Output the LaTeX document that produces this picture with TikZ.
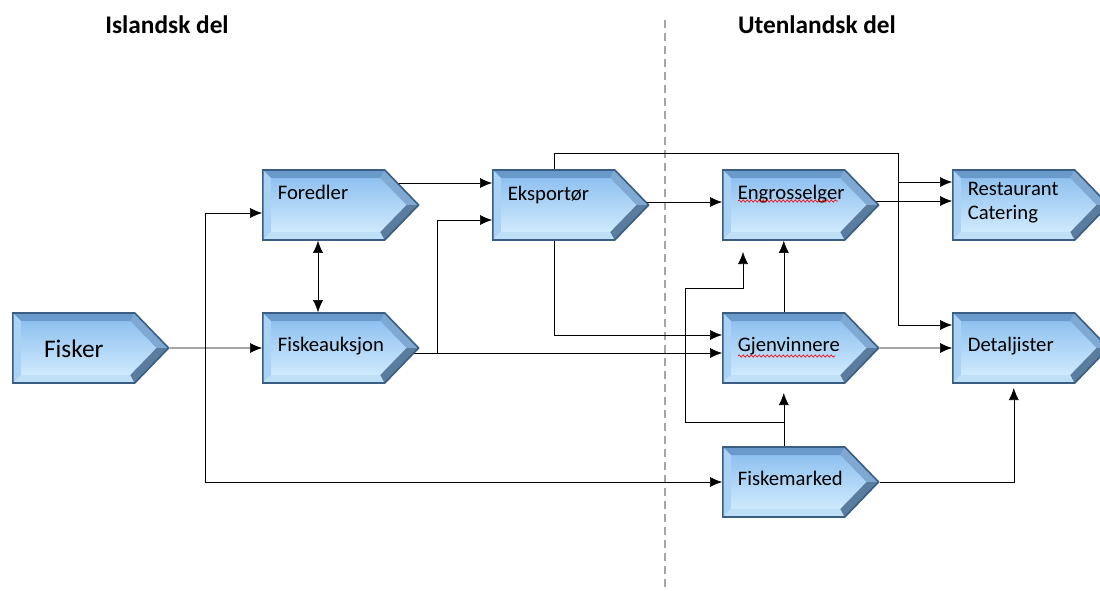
\documentclass[tikz,border=0pt]{standalone}
\usepackage{fontspec}
\setmainfont{Carlito}
\usepackage{tikz}
\usetikzlibrary{arrows.meta, backgrounds, calc, decorations.pathmorphing, shapes.symbols}
\definecolor{stageline}{HTML}{395D83}
\definecolor{stagetop}{HTML}{86BBEE}
\definecolor{stagebot}{HTML}{D8F0FF}
\definecolor{bevtop}{HTML}{6A9ACC}
\definecolor{bevleft}{HTML}{A9D2F4}
\definecolor{bevbot}{HTML}{BFDFF7}
\definecolor{bevup}{HTML}{7FA9D3}
\definecolor{bevlow}{HTML}{5A7C9E}
\tikzstyle{bevel}=[path picture={
  \coordinate (nw) at (path picture bounding box.north west);
  \coordinate (sw) at (path picture bounding box.south west);
  \coordinate (ne) at (path picture bounding box.north east);
  \coordinate (se) at (path picture bounding box.south east);
  \coordinate (ee) at (path picture bounding box.east);
  \coordinate (on) at ($(ne)+(-25.5pt,0)$);
  \coordinate (os) at ($(se)+(-25.5pt,0)$);
  \coordinate (inw) at ($(nw)+(6pt,-6pt)$);
  \coordinate (isw) at ($(sw)+(6pt,6pt)$);
  \coordinate (ine) at ($(ne)+(-28.7pt,-6pt)$);
  \coordinate (ise) at ($(se)+(-28.7pt,6pt)$);
  \coordinate (iee) at ($(ee)+(-9pt,0)$);
  \fill[bevtop] (nw) -- (on) -- (ine) -- (inw) -- cycle;
  \fill[bevleft] (nw) -- (inw) -- (isw) -- (sw) -- cycle;
  \fill[bevbot] (sw) -- (isw) -- (ise) -- (os) -- cycle;
  \fill[bevup] (on) -- (ee) -- (iee) -- (ine) -- cycle;
  \fill[bevlow] (ee) -- (os) -- (ise) -- (iee) -- cycle;
}]
\tikzstyle{stage}=[signal, signal to=east, signal pointer angle=92, anchor=west,
  draw=stageline, line width=1.2pt, top color=stagetop, bottom color=stagebot, bevel,
  inner xsep=11.25pt, inner ysep=0pt, text width=69pt, align=left,
  font=\fontsize{15.5}{18}\selectfont]
\tikzstyle{upper}=[text height=21.75pt, text depth=30.75pt]
\tikzstyle{middle}=[text height=28.5pt, text depth=24pt]
\tikzstyle{title}=[font=\bfseries\fontsize{19}{23}\selectfont]
\tikzstyle{divider}=[draw=black!35, line width=1.5pt, dash pattern=on 6pt off 3.75pt]
\tikzstyle{squiggle}=[draw=red, line width=0.5pt, decorate,
  decoration={snake, segment length=3pt, amplitude=0.8pt}]

\begin{document}
\begin{tikzpicture}[x=0.75pt, y=-0.75pt, >={Latex[length=9pt, width=7.5pt]}, line width=1.15pt]
  \useasboundingbox (0,0) rectangle (1100,590);
  \node[title] (island) at (167,25) {Islandsk del};
  \node[title] (abroad) at (817,25) {Utenlandsk del};

  \node[stage, align=center, text height=33pt, text depth=19.5pt,
        font=\fontsize{19}{22}\selectfont] (fisker) at (12,348) {Fisker};
  \node[stage, middle] (auksjon) at (262,348) {Fiskeauksjon};
  \node[stage, upper] (foredler) at (262,205) {Foredler};
  \node[stage, text height=22.5pt, text depth=30pt] (eksport) at (492,205) {Eksportør};
  \node[stage, upper] (engros) at (722,205) {Engrosselger};
  \node[stage, text height=18.75pt, text depth=33.75pt] (rest) at (952,205) {Restaurant\\Catering};
  \node[stage, middle] (gjenv) at (722,348) {Gjenvinnere};
  \node[stage, middle] (detalj) at (952,348) {Detaljister};
  \node[stage, middle] (fiskem) at (722,482) {Fiskemarked};

  \draw[squiggle] (engros.west |- 0,201) ++(12pt,0) -- ++(75pt,0);
  \draw[squiggle] (gjenv.west |- 0,356) ++(12pt,0) -- ++(73pt,0);

  \coordinate (fork) at (205,348);
  \coordinate (lift) at (437,353);
  \coordinate (ring) at (898,153);
  \coordinate (loop) at (685,422);
  \coordinate (hook) at (743,252);

  \begin{scope}[on background layer]
    \draw[divider] (665,20) -- (665,590);
    \draw[->] (fisker) -- (auksjon.west);
    \draw[->] (fork |- fiskem) -- (fiskem.west);
    \draw[->] (fork |- fiskem) |- (foredler.west |- 0,213);
    \draw[<->] (foredler.south -| 318,0) -- (auksjon.north -| 318,0);
    \draw[->] (foredler |- 0,183) -- (eksport.west |- 0,183);
    \draw[->] (auksjon |- lift) -- (gjenv.west |- lift);
    \draw[->] (lift) |- (eksport.west |- 0,220);
    \draw[->] (eksport.north) |- (ring) |- (detalj.west |- 0,325);
    \draw[->] (ring |- 0,182) -- (rest.west |- 0,182);
    \draw[->] (eksport |- 0,202) -- (engros.west |- 0,202);
    \draw[->] (engros |- 0,201) -- (rest.west |- 0,201);
    \draw[->] (eksport.south) |- (gjenv.west |- 0,335);
    \draw[->] (gjenv.north) -- (engros.south);
    \draw[->] (gjenv) -- (detalj.west |- gjenv);
    \draw[->] (fiskem.north) -- (gjenv.south |- 0,393);
    \draw[->] (fiskem.north |- loop) -- (loop) |- (hook |- 0,288) -- (hook);
    \draw[->] (fiskem) -| (detalj.south |- 0,388);
  \end{scope}
\end{tikzpicture}
\end{document}
